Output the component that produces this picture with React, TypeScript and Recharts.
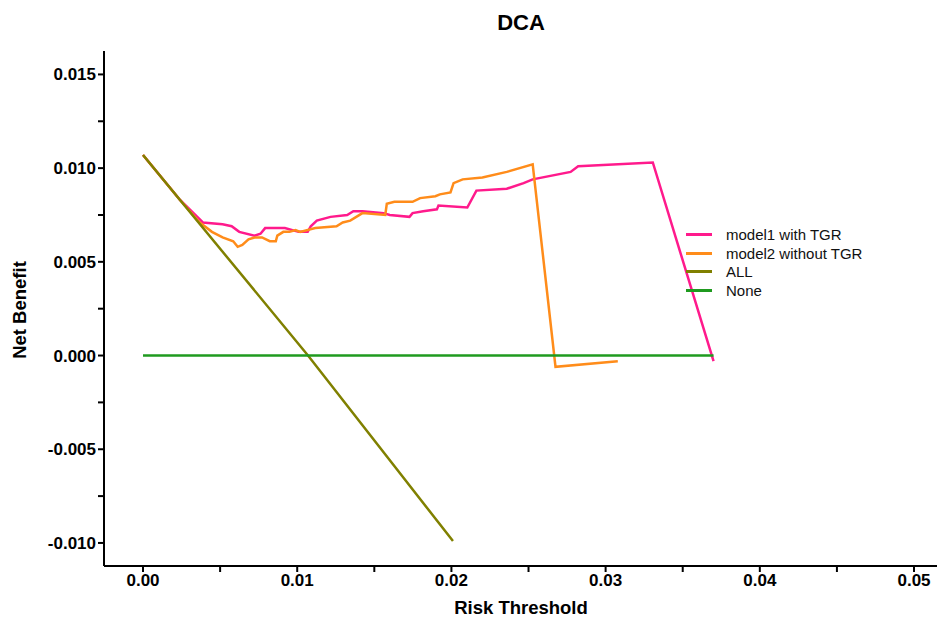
import { Line, LineChart, XAxis, YAxis } from "recharts";

// risk thresholds and net benefit
const model1X = [0, 0.0024, 0.00339, 0.00388, 0.00516, 0.00575, 0.00624, 0.00723, 0.00762, 0.00792, 0.00841, 0.0092, 0.01009, 0.01068, 0.01088, 0.01127, 0.01216, 0.01324, 0.01364, 0.01423, 0.01561, 0.016, 0.01728, 0.01748, 0.01817, 0.01906, 0.01916, 0.02103, 0.02162, 0.02359, 0.02468, 0.02527, 0.02773, 0.02822, 0.03306, 0.037];
const model1Y = [0.0107, 0.0083, 0.0075, 0.0071, 0.007, 0.0069, 0.0066, 0.0064, 0.0065, 0.0068, 0.0068, 0.0068, 0.0066, 0.0066, 0.0069, 0.0072, 0.0074, 0.0075, 0.0077, 0.0077, 0.0076, 0.0075, 0.0074, 0.0076, 0.0077, 0.0078, 0.008, 0.0079, 0.0088, 0.0089, 0.0092, 0.0094, 0.0098, 0.0101, 0.0103, -0.0003];

const model2X = [0, 0.0024, 0.00368, 0.00447, 0.00516, 0.00585, 0.00614, 0.00644, 0.00684, 0.00723, 0.00772, 0.00822, 0.00861, 0.00871, 0.0091, 0.0095, 0.00989, 0.01019, 0.01117, 0.01255, 0.01295, 0.01344, 0.01423, 0.01571, 0.01581, 0.0163, 0.01748, 0.01797, 0.01896, 0.01925, 0.01994, 0.02014, 0.02073, 0.02201, 0.02359, 0.02527, 0.02675, 0.03079];
const model2Y = [0.0107, 0.0083, 0.0071, 0.0066, 0.0063, 0.0061, 0.0058, 0.0059, 0.0062, 0.0063, 0.0063, 0.0061, 0.0061, 0.0064, 0.0066, 0.0066, 0.0067, 0.0066, 0.0068, 0.0069, 0.0071, 0.0072, 0.0076, 0.0075, 0.0081, 0.0082, 0.0082, 0.0084, 0.0085, 0.0086, 0.0087, 0.0092, 0.0094, 0.0095, 0.0098, 0.0102, -0.0006, -0.0003];

const allX = [0, 0.0107, 0.0201];
const allY = [0.0107, 0, -0.0099];

const noneX = [0, 0.037];
const noneY = [0, 0];

const xTicks = [0, 0.005, 0.01, 0.015, 0.02, 0.025, 0.03, 0.035, 0.04, 0.045, 0.05];
const yTicks = [-0.01, -0.0075, -0.005, -0.0025, 0, 0.0025, 0.005, 0.0075, 0.01, 0.0125, 0.015];

const seriesNames = ["model1 with TGR", "model2 without TGR", "ALL", "None"];
const seriesColors = ["#ff1a8c", "#ff8c1a", "#808000", "#1f9a1f"];

const toPoints = (xs: number[], ys: number[]) => xs.map((x, i) => ({ x, y: ys[i] }));

const series = [
  toPoints(model1X, model1Y),
  toPoints(model2X, model2Y),
  toPoints(allX, allY),
  toPoints(noneX, noneY),
];

const font = "'Liberation Sans', Arial, sans-serif";

const isMajor = (v: number, step: number) => Math.abs(v / step - Math.round(v / step)) < 1e-6;

function LegendBox() {
  return (
    <div style={{ position: "absolute", left: 686, top: 225, fontFamily: font, fontSize: 15, color: "#111" }}>
      {seriesNames.map((name, i) => (
        <div key={name} style={{ display: "flex", alignItems: "center", height: 18.7, whiteSpace: "nowrap" }}>
          <span style={{ display: "inline-block", width: 26, height: 3, background: seriesColors[i], marginRight: 14 }} />
          {name}
        </div>
      ))}
    </div>
  );
}

export default function App() {
  return (
    <div style={{ position: "relative", width: 937, height: 624, overflow: "hidden", background: "#fff", fontFamily: font }}>
      <style>{"body{margin:0;overflow:hidden}"}</style>
      <div style={{ position: "absolute", left: 0, width: 1042, top: 10, textAlign: "center", fontWeight: 700, fontSize: 22 }}>DCA</div>
      <div style={{ position: "absolute", left: 0, width: 1042, top: 597, textAlign: "center", fontWeight: 700, fontSize: 18.5 }}>Risk Threshold</div>
      <div
        style={{
          position: "absolute",
          left: 20,
          top: 310,
          fontWeight: 700,
          fontSize: 18.5,
          transform: "translate(-50%, -50%) rotate(-90deg)",
          whiteSpace: "nowrap",
        }}
      >
        Net Benefit
      </div>
      <LineChart width={937} height={624} margin={{ top: 51, right: 0, bottom: 0, left: 0 }}>
        <XAxis
          type="number"
          dataKey="x"
          domain={[-0.00253, 0.05149]}
          ticks={xTicks}
          tickFormatter={(v: number) => (isMajor(v, 0.01) ? v.toFixed(2) : "")}
          height={58}
          tickSize={6}
          allowDataOverflow
          stroke="#000"
          strokeWidth={2}
          tick={{ fill: "#000", fontSize: 17, fontWeight: 700, fontFamily: font }}
        />
        <YAxis
          type="number"
          dataKey="y"
          domain={[-0.01123, 0.01625]}
          ticks={yTicks}
          tickFormatter={(v: number) => (isMajor(v, 0.005) ? v.toFixed(3) : "")}
          width={104}
          tickSize={6}
          allowDataOverflow
          stroke="#000"
          strokeWidth={2}
          tick={{ fill: "#000", fontSize: 17, fontWeight: 700, fontFamily: font }}
        />
        {series.map((pts, i) => (
          <Line
            key={seriesNames[i]}
            data={pts}
            dataKey="y"
            name={seriesNames[i]}
            type="linear"
            stroke={seriesColors[i]}
            strokeWidth={2.5}
            dot={false}
            activeDot={false}
            isAnimationActive={false}
          />
        ))}
      </LineChart>
      <LegendBox />
    </div>
  );
}
